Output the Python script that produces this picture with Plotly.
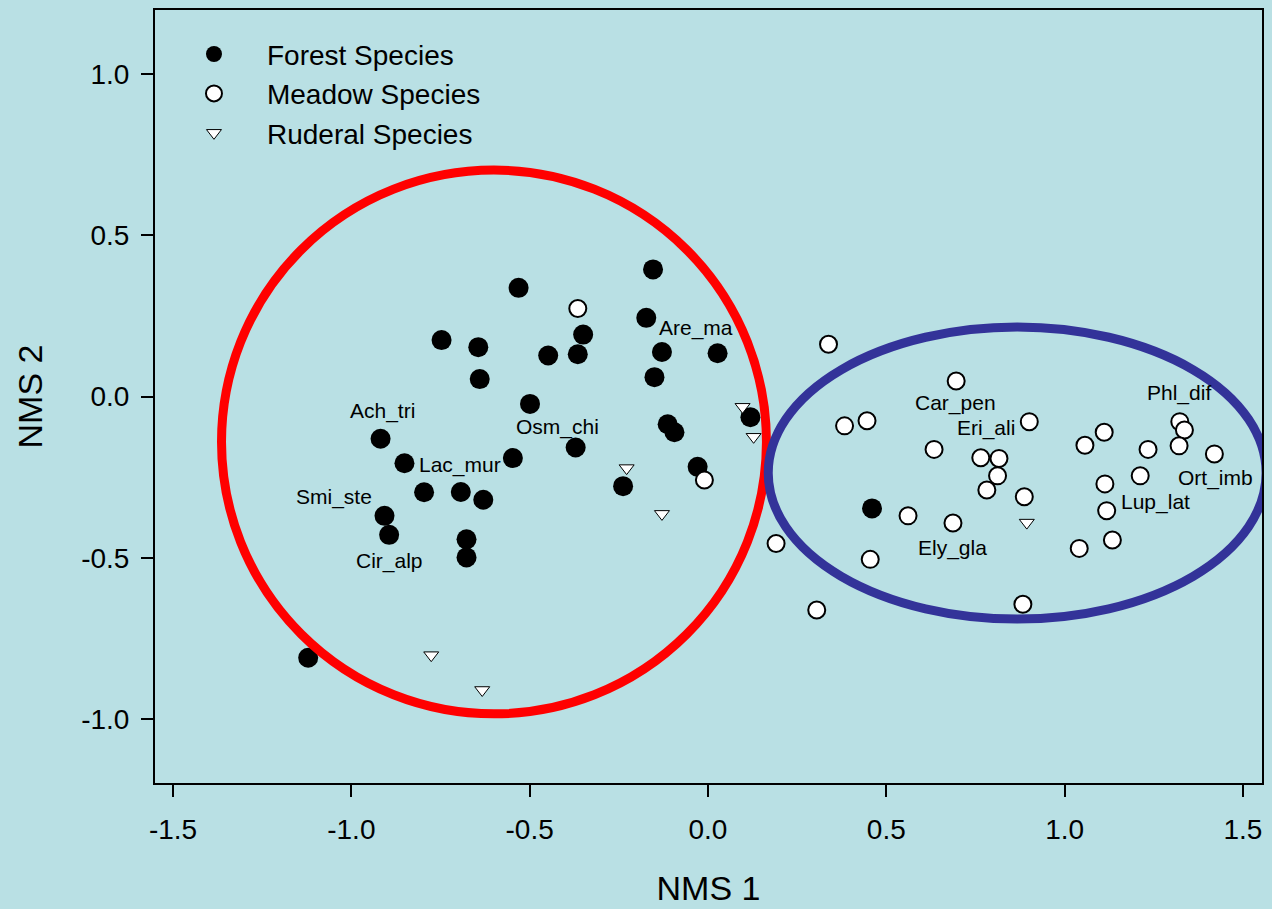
import plotly.graph_objects as go

# ---------------- data ----------------
forest_x = [-0.154, -0.531, -0.173, -0.350, -0.747, -0.644, -0.448, -0.365, -0.129, 0.027,
            -0.640, -0.150, -0.499, 0.119, -0.113, -0.094, -0.918, -0.371, -0.547, -0.851,
            -0.029, -0.796, -0.693, -0.630, -0.238, -0.907, -0.894, -0.677, -0.677, 0.460,
            -1.121]
forest_y = [0.394, 0.337, 0.244, 0.192, 0.175, 0.153, 0.127, 0.131, 0.138, 0.134,
            0.054, 0.060, -0.023, -0.064, -0.086, -0.111, -0.131, -0.158, -0.191, -0.207,
            -0.218, -0.297, -0.296, -0.320, -0.278, -0.370, -0.429, -0.443, -0.499, -0.347,
            -0.810]

meadow_x = [-0.365, -0.010, 0.191, 0.305, 0.338, 0.383, 0.446, 0.455, 0.561, 0.634,
            0.687, 0.696, 0.765, 0.816, 0.812, 0.782, 0.887, 0.901, 0.883, 1.041,
            1.057, 1.111, 1.113, 1.118, 1.134, 1.212, 1.234, 1.323, 1.336, 1.321,
            1.420]
meadow_y = [0.273, -0.259, -0.456, -0.662, 0.162, -0.091, -0.075, -0.505, -0.370, -0.164,
            -0.392, 0.048, -0.190, -0.192, -0.246, -0.290, -0.311, -0.078, -0.644, -0.471,
            -0.151, -0.111, -0.271, -0.354, -0.445, -0.246, -0.164, -0.078, -0.104, -0.153,
            -0.178]

ruderal_x = [0.097, 0.128, -0.228, -0.129, -0.776, -0.633, 0.894]
ruderal_y = [-0.032, -0.125, -0.222, -0.364, -0.802, -0.910, -0.391]

label_names = ["Ach_tri", "Osm_chi", "Lac_mur", "Smi_ste", "Cir_alp", "Are_ma",
               "Car_pen", "Eri_ali", "Ely_gla", "Phl_dif", "Ort_imb", "Lup_lat"]
label_x = [-0.913, -0.422, -0.694, -1.050, -0.893, -0.033,
           0.693, 0.780, 0.687, 1.321, 1.422, 1.254]
label_y = [-0.045, -0.095, -0.212, -0.312, -0.510, 0.212,
           -0.020, -0.098, -0.470, 0.010, -0.253, -0.327]

# group outlines (x0, x1, y0, y1)
forest_group = [-1.364, 0.164, -0.984, 0.702]
meadow_group = [0.169, 1.565, -0.690, 0.2155]

x_ticks = [-1.5, -1.0, -0.5, 0.0, 0.5, 1.0, 1.5]
y_ticks = [-1.0, -0.5, 0.0, 0.5, 1.0]

BG = "#B9E0E4"
FONT = "Liberation Sans, Arial, sans-serif"

fig = go.Figure()
fig.add_trace(go.Scatter(x=forest_x, y=forest_y, mode="markers", name="Forest Species",
                         legendgroup="f",
                         marker=dict(symbol="circle", size=20, color="black",
                                     line=dict(color="black", width=0))))
fig.add_trace(go.Scatter(x=meadow_x, y=meadow_y, mode="markers", name="Meadow Species",
                         legendgroup="m",
                         marker=dict(symbol="circle", size=17, color="white",
                                     line=dict(color="black", width=2))))
fig.add_trace(go.Scatter(x=ruderal_x, y=ruderal_y, mode="markers", name="Ruderal Species",
                         legendgroup="r",
                         marker=dict(symbol="triangle-down", size=13, color="white",
                                     line=dict(color="black", width=1))))

for name, lx, ly in zip(label_names, label_x, label_y):
    fig.add_annotation(x=lx, y=ly, text=name, showarrow=False,
                       font=dict(family=FONT, size=21, color="black"),
                       xanchor="center", yanchor="middle")

fig.add_shape(type="circle", xref="x", yref="y",
              x0=forest_group[0], x1=forest_group[1], y0=forest_group[2], y1=forest_group[3],
              line=dict(color="#FF0000", width=9), layer="above")
fig.add_shape(type="circle", xref="x", yref="y",
              x0=meadow_group[0], x1=meadow_group[1], y0=meadow_group[2], y1=meadow_group[3],
              line=dict(color="#333399", width=9), layer="above")

axis_common = dict(showgrid=False, zeroline=False, showline=True, linecolor="black",
                   linewidth=2, mirror=True, ticks="outside", ticklen=12, tickwidth=2,
                   tickcolor="black", tickfont=dict(family=FONT, size=28, color="black"))

fig.update_xaxes(range=[-1.5505, 1.5535], tickvals=x_ticks,
                 ticktext=[f"{v:.1f}" for v in x_ticks],
                 title=dict(text="NMS 1", font=dict(family=FONT, size=34, color="black"),
                            standoff=33),
                 ticklabelstandoff=8, **axis_common)
fig.update_yaxes(range=[-1.1984, 1.1984], tickvals=y_ticks,
                 ticktext=[f"{v:.1f}" for v in y_ticks],
                 title=dict(text="NMS 2", font=dict(family=FONT, size=34, color="black"),
                            standoff=28),
                 ticklabelstandoff=6, **axis_common)

fig.update_layout(
    width=1272, height=909,
    margin=dict(l=155, r=10, t=10, b=126, autoexpand=False),
    paper_bgcolor=BG, plot_bgcolor=BG,
    font=dict(family=FONT, color="black"),
    showlegend=True,
    legend=dict(x=0.0054, y=0.975, xanchor="left", yanchor="top",
                bgcolor="rgba(0,0,0,0)", borderwidth=0,
                font=dict(family=FONT, size=28, color="black"),
                tracegroupgap=0, itemwidth=96),
)

fig.write_html("out.html")
